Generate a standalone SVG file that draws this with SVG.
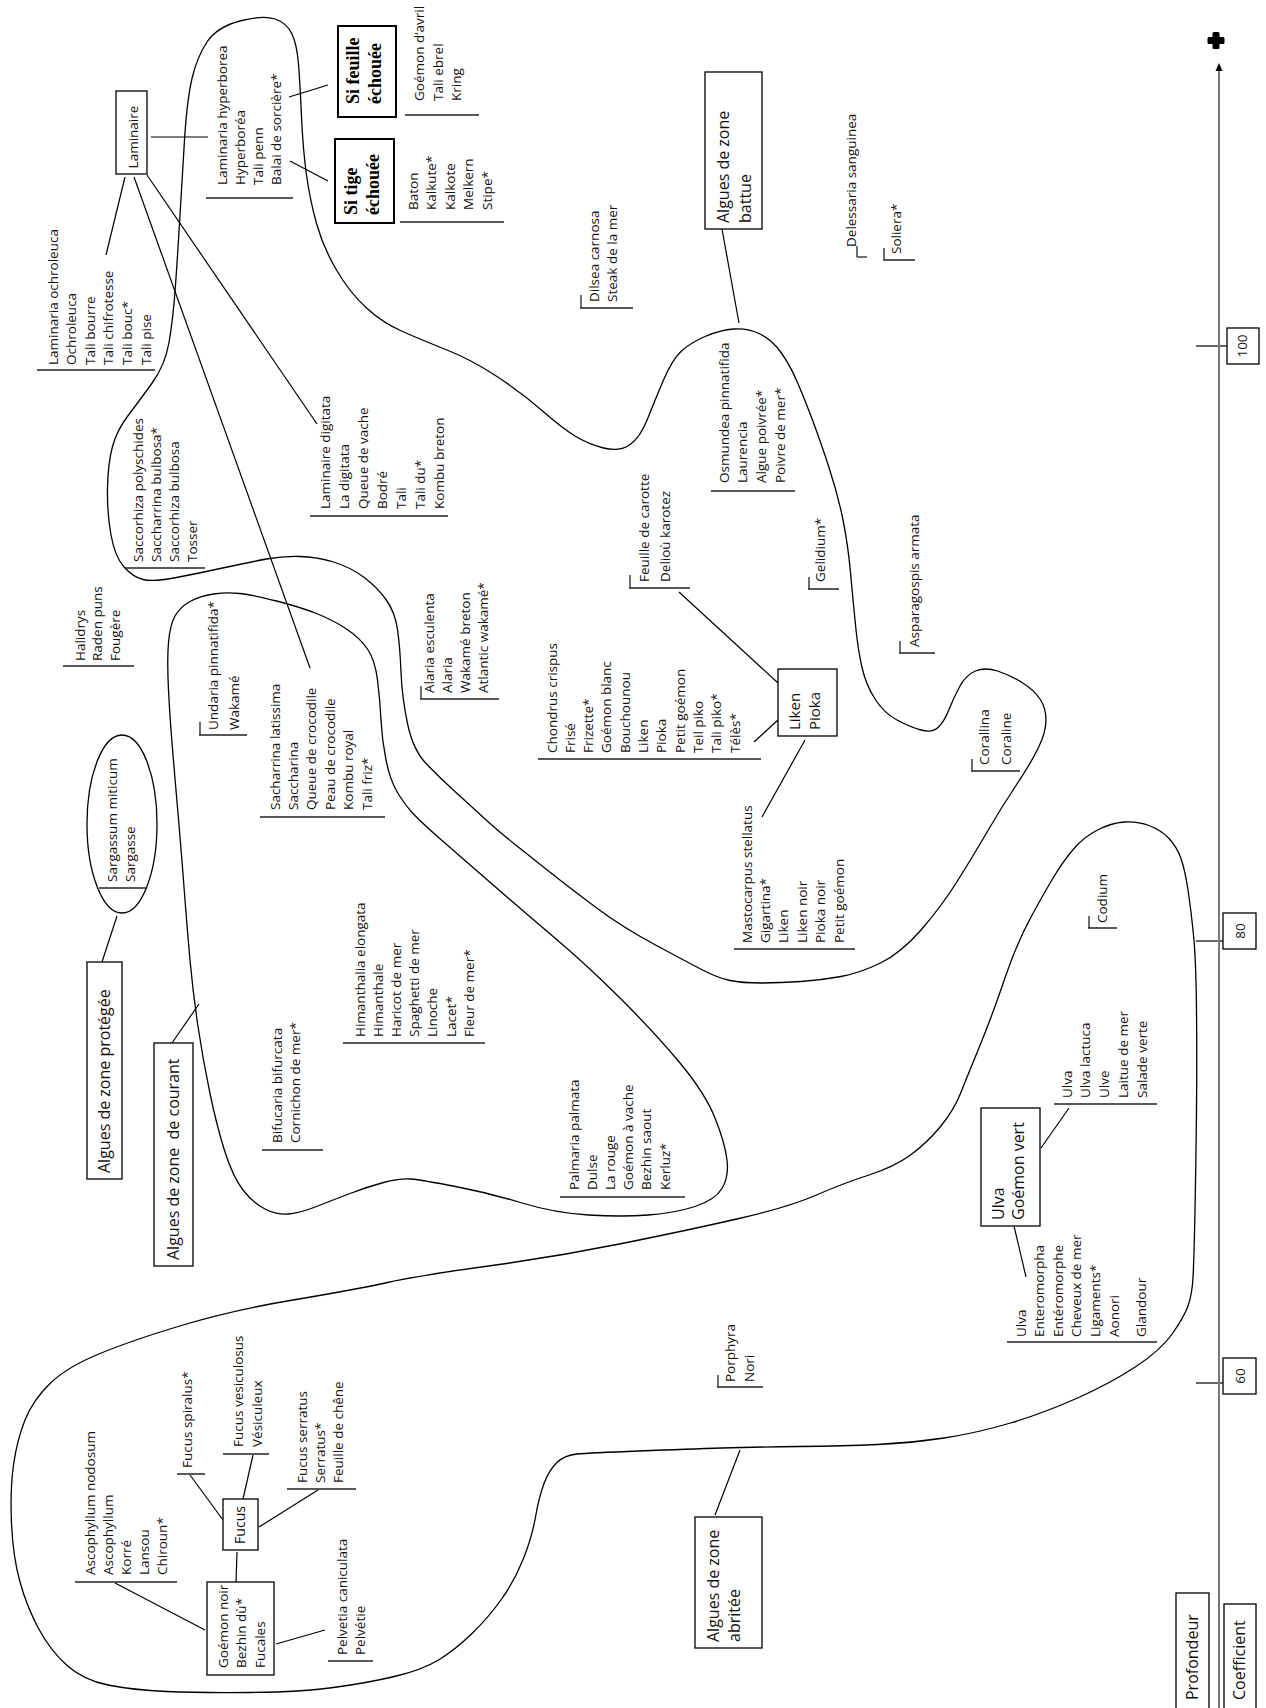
<svg xmlns="http://www.w3.org/2000/svg" width="1266" height="1708" viewBox="0 0 1266 1708">
<style>
.t{font-family:"Open Sans","Liberation Sans",sans-serif;font-size:13.5px;fill:#111}
.b{font-size:16px}
.m{font-size:15px}
.s{font-family:"Liberation Serif","DejaVu Serif",serif;font-weight:bold;font-size:18px;fill:#000}
.mid{text-anchor:middle}
.u{stroke:#222;stroke-width:1.5}
.k{stroke:#222;stroke-width:1.3}
.c{stroke:#000;stroke-width:1.2;fill:none}
.box{fill:#fff;stroke:#000;stroke-width:1.3}
.box2{fill:#fff;stroke:#000;stroke-width:2}
.zone{fill:none;stroke:#000;stroke-width:1.3}
.pre{white-space:pre}
</style>
<rect width="1266" height="1708" fill="#fff"/>
<g id="zones">
<path id="zone-battue" class="zone" d="M 176.5,577.5 Q 153,582 143,579.5 Q 133,577 124,567 Q 115,557 111,535 Q 107,513 107.5,488 Q 108,463 112.5,446.5 Q 117,430 128.5,415 Q 140,400 152.5,382.5 Q 165,365 169,342.5 Q 173,320 175.5,285 Q 178,250 180,215 Q 182,180 184.5,140 Q 187,100 192,78.5 Q 197,57 207,42 Q 217,27 240,21 Q 263,15 275,19 Q 287,23 292,34 Q 297,45 298.5,64 Q 300,83 301.5,116.5 Q 303,150 306.5,175 Q 310,200 316.5,223.5 Q 323,247 336.5,270 Q 350,293 366.5,308 Q 383,323 402.5,331.5 Q 422,340 447,350 Q 472,360 497,376.5 Q 522,393 542,410.5 Q 562,428 575,436 Q 588,444 603.5,448 Q 619,452 629.5,445 Q 640,438 647.5,419 Q 655,400 663.5,380 Q 672,360 681,351.5 Q 690,343 705,336.5 Q 720,330 734,329 Q 748,328 760,334 Q 772,340 781,352.5 Q 790,365 797.5,382.5 Q 805,400 812.5,420 Q 820,440 829,467.5 Q 838,495 843,520 Q 848,545 850.5,572.5 Q 853,600 855.5,625 Q 858,650 862,667.5 Q 866,685 875,699 Q 884,713 897,720 Q 910,727 921,730 Q 932,733 938,727.5 Q 944,722 949,709.5 Q 954,697 960,686 Q 966,675 975.5,671 Q 985,667 997.5,671 Q 1010,675 1022,682.5 Q 1034,690 1040,699 Q 1046,708 1046,720 Q 1046,732 1038.5,747.5 Q 1031,763 1016,785.5 Q 1001,808 986.5,833 Q 972,858 956.5,882.5 Q 941,907 921,930 Q 901,953 880.5,963 Q 860,973 841,976.5 Q 822,980 801,981.5 Q 780,983 761,983 Q 742,983 730,980.5 Q 718,978 703.5,970.5 Q 689,963 655.5,945 Q 622,927 596,907.5 Q 570,888 551,873 Q 532,858 514.5,844 Q 497,830 484.5,818.5 Q 472,807 456,792.5 Q 440,778 426.5,764 Q 413,750 407.5,723.5 Q 402,697 401,672 Q 400,647 397.5,629.5 Q 395,612 386,599.5 Q 377,587 363.5,577 Q 350,567 333.5,562 Q 317,557 300,556.5 Q 283,556 266.5,559 Q 250,562 225,567.5 Q 200,573 176.5,577.5 Z"/>
<path id="zone-courant" class="zone" d="M 168.5,690 Q 167,660 168.5,642.5 Q 170,625 175,616 Q 180,607 190,601.5 Q 200,596 213.5,594 Q 227,592 240,593.5 Q 253,595 276.5,601 Q 300,607 316.5,613.5 Q 333,620 346.5,629 Q 360,638 367.5,649 Q 375,660 377.5,680 Q 380,700 381,720 Q 382,740 386,760 Q 390,780 397.5,792.5 Q 405,805 413.5,814 Q 422,823 442,840.5 Q 462,858 492,884 Q 522,910 555.5,938.5 Q 589,967 622,1000 Q 655,1033 680,1063 Q 705,1093 715,1118 Q 725,1143 727,1160 Q 729,1177 722,1188.5 Q 715,1200 695,1206.5 Q 675,1213 648.5,1215 Q 622,1217 588.5,1215 Q 555,1213 522,1203 Q 489,1193 455.5,1186.5 Q 422,1180 411,1179 Q 400,1178 383.5,1182.5 Q 367,1187 350,1193.5 Q 333,1200 316.5,1206.5 Q 300,1213 288.5,1214 Q 277,1215 265,1209 Q 253,1203 243,1190 Q 233,1177 225,1152 Q 217,1127 210,1093.5 Q 203,1060 198,1026.5 Q 193,993 190,960 Q 187,927 184.5,893.5 Q 182,860 179,825 Q 176,790 173,755 Q 170,720 168.5,690 Z"/>
<path id="zone-abritee" class="zone" d="M 1054,876.5 Q 1064,860 1074,848.5 Q 1084,837 1097.5,830 Q 1111,823 1124,822 Q 1137,821 1149,825.5 Q 1161,830 1169,838.5 Q 1177,847 1181,858.5 Q 1185,870 1188,890 Q 1191,910 1193.5,935 Q 1196,960 1196.5,1010 Q 1197,1060 1196.5,1110 Q 1196,1160 1195,1210 Q 1194,1260 1193,1277.5 Q 1192,1295 1188,1306 Q 1184,1317 1172.5,1333.5 Q 1161,1350 1136,1366.5 Q 1111,1383 1077.5,1398 Q 1044,1413 1010.5,1423 Q 977,1433 944,1438 Q 911,1443 877.5,1444.5 Q 844,1446 799.5,1446.5 Q 755,1447 722,1448 Q 689,1449 639,1451 Q 589,1453 577,1454 Q 565,1455 557,1462.5 Q 549,1470 544,1483.5 Q 539,1497 535.5,1517 Q 532,1537 523.5,1558.5 Q 515,1580 502,1598.5 Q 489,1617 472,1633.5 Q 455,1650 438.5,1660 Q 422,1670 394.5,1676.5 Q 367,1683 333.5,1687.5 Q 300,1692 250,1692.5 Q 200,1693 166.5,1691.5 Q 133,1690 108,1685 Q 83,1680 66.5,1665 Q 50,1650 38.5,1628.5 Q 27,1607 20,1582 Q 13,1557 11.5,1523.5 Q 10,1490 13.5,1465 Q 17,1440 25,1420 Q 33,1400 50,1383.5 Q 67,1367 100,1353.5 Q 133,1340 183,1325 Q 233,1310 293,1300 Q 353,1290 387.5,1282.5 Q 422,1275 488.5,1266 Q 555,1257 622,1243.5 Q 689,1230 739,1218.5 Q 789,1207 816.5,1195 Q 844,1183 869,1175 Q 894,1167 910.5,1155 Q 927,1143 940.5,1126.5 Q 954,1110 960.5,1093.5 Q 967,1077 972,1065 Q 977,1053 985.5,1031.5 Q 994,1010 1005.5,976.5 Q 1017,943 1030.5,918 Q 1044,893 1054,876.5 Z"/>
</g>
<g id="connectors">
<line class="c" x1="151" y1="137" x2="208" y2="137"/>
<line class="c" x1="147" y1="175" x2="317" y2="424"/>
<line class="c" x1="134" y1="177" x2="310" y2="668"/>
<line class="c" x1="125" y1="177" x2="106" y2="255"/>
<line class="c" x1="289" y1="97" x2="328" y2="85"/>
<line class="c" x1="290" y1="161" x2="328" y2="181"/>
<line class="c" x1="722" y1="229" x2="739" y2="323"/>
<line class="c" x1="117" y1="916" x2="101" y2="965"/>
<line class="c" x1="172" y1="1043" x2="199" y2="1004"/>
<line class="c" x1="715" y1="1515" x2="740" y2="1450"/>
<line class="c" x1="679" y1="592" x2="778" y2="683"/>
<line class="c" x1="754" y1="742" x2="778" y2="720"/>
<line class="c" x1="805" y1="740" x2="762" y2="817"/>
<line class="c" x1="1041" y1="1148" x2="1069" y2="1108"/>
<line class="c" x1="1014" y1="1226" x2="1026" y2="1277"/>
<line class="c" x1="115" y1="1583" x2="205" y2="1630"/>
<line class="c" x1="190" y1="1475" x2="223" y2="1520"/>
<line class="c" x1="253" y1="1455" x2="243" y2="1499"/>
<line class="c" x1="318" y1="1490" x2="259" y2="1527"/>
<line class="c" x1="237" y1="1552" x2="236" y2="1582"/>
<line class="c" x1="325" y1="1630" x2="276" y2="1644"/>
<line class="c" x1="1196" y1="346" x2="1227" y2="346"/>
<line class="c" x1="1196" y1="941" x2="1223" y2="941"/>
<line class="c" x1="1196" y1="1383" x2="1223" y2="1383"/>
</g>
<g id="axis">
<line x1="1219" y1="1708" x2="1219" y2="70" stroke="#777" stroke-width="2"/>
<polygon points="1219,63 1215.5,71 1222.5,71" fill="#000"/>
<rect x="1212.5" y="32" width="7" height="17" rx="1.5" fill="#000"/>
<rect x="1207.5" y="37" width="17" height="7" rx="1.5" fill="#000"/>
</g>
<g id="n-100"><rect class="box" x="1227" y="328" width="32" height="36"/><g transform="translate(1247,346) rotate(-90)"><text class="t mid">100</text></g></g>
<g id="n-80"><rect class="box" x="1223" y="913" width="33" height="36"/><g transform="translate(1244.5,931) rotate(-90)"><text class="t mid">80</text></g></g>
<g id="n-60"><rect class="box" x="1223" y="1358" width="33" height="36"/><g transform="translate(1244.5,1376) rotate(-90)"><text class="t mid">60</text></g></g>
<g id="n-profondeur"><rect class="box" x="1176" y="1593" width="33" height="130"/><g transform="translate(1198,1700) rotate(-90)"><text class="t b">Profondeur</text></g></g>
<g id="n-coefficient"><rect class="box" x="1224" y="1604" width="32" height="120"/><g transform="translate(1245,1700) rotate(-90)"><text class="t b">Coefficient</text></g></g>

<g id="n-laminaire"><rect class="box" x="116" y="91" width="31" height="83"/><g transform="translate(137.5,137) rotate(-90)"><text class="t mid">Laminaire</text></g></g>
<g id="n-si-feuille"><rect class="box2" x="338" y="26" width="58" height="91"/><g transform="translate(359,104) rotate(-90)"><text class="s"><tspan x="0" y="0">Si feuille</tspan><tspan x="0" y="21.5">échouée</tspan></text></g></g>
<g id="n-si-tige"><rect class="box2" x="335" y="139" width="59" height="84"/><g transform="translate(357,215) rotate(-90)"><text class="s"><tspan x="0" y="0">Si tige</tspan><tspan x="0" y="22">échouée</tspan></text></g></g>
<g id="n-battue"><rect class="box" x="705" y="72" width="57" height="157"/><g transform="translate(728.5,223) rotate(-90)"><text class="t b"><tspan x="0" y="0">Algues de zone</tspan><tspan x="0" y="22">battue</tspan></text></g></g>
<g id="n-protegee"><rect class="box" x="87" y="962" width="35" height="217"/><g transform="translate(110,1173) rotate(-90)"><text class="t b">Algues de zone protégée</text></g></g>
<g id="n-courant"><rect class="box" x="154" y="1043" width="39" height="223"/><g transform="translate(178.5,1260) rotate(-90)"><text class="t b pre">Algues de zone  de courant</text></g></g>
<g id="n-abritee"><rect class="box" x="695" y="1517" width="67" height="131"/><g transform="translate(718.5,1642) rotate(-90)"><text class="t b"><tspan x="0" y="0">Algues de zone</tspan><tspan x="0" y="21">abritée</tspan></text></g></g>
<g id="n-liken"><rect class="box" x="778" y="669" width="59" height="67"/><g transform="translate(800,730) rotate(-90)"><text class="t m"><tspan x="0" y="0">Liken</tspan><tspan x="0" y="20">Pioka</tspan></text></g></g>
<g id="n-ulva"><rect class="box" x="981" y="1108" width="59" height="118"/><g transform="translate(1003.5,1220) rotate(-90)"><text class="t b"><tspan x="0" y="0">Ulva</tspan><tspan x="0" y="20">Goémon vert</tspan></text></g></g>
<g id="n-fucus"><rect class="box" x="223" y="1499" width="35" height="51"/><g transform="translate(245,1525) rotate(-90)"><text class="t mid" style="font-size:14px">Fucus</text></g></g>
<g id="n-goemon-noir"><rect class="box" x="207" y="1582" width="67" height="93"/><g transform="translate(227.5,1668) rotate(-90)"><text class="t"><tspan x="0" y="0">Goémon noir</tspan><tspan x="0" y="18.5">Bezhin dù*</tspan><tspan x="0" y="37">Fucales</tspan></text></g></g>
<g id="n-sargassum"><ellipse cx="122" cy="824" rx="35" ry="89" fill="none" stroke="#000" stroke-width="1.3"/><line class="u" x1="99" y1="888" x2="147" y2="888"/><g transform="translate(116.5,882) rotate(-90)"><text class="t"><tspan x="0" y="0">Sargassum miticum</tspan><tspan x="0" y="18">Sargasse</tspan></text></g></g>

<g id="n-ochroleuca"><line class="u" x1="37" y1="370" x2="155" y2="370"/><g transform="translate(57.5,365) rotate(-90)"><text class="t"><tspan x="0" y="0">Laminaria ochroleuca</tspan><tspan x="0" y="18.6">Ochroleuca</tspan><tspan x="0" y="37.2">Tali bourre</tspan><tspan x="0" y="55.8">Tali chifrotesse</tspan><tspan x="0" y="74.4">Tali bouc*</tspan><tspan x="0" y="93">Tali pise</tspan></text></g></g>
<g id="n-hyperborea"><line class="u" x1="206" y1="198" x2="293" y2="198"/><g transform="translate(226.5,185) rotate(-90)"><text class="t"><tspan x="0" y="0">Laminaria hyperborea</tspan><tspan x="0" y="18">Hyperboréa</tspan><tspan x="0" y="36">Tali penn</tspan><tspan x="0" y="54">Balai de sorcière*</tspan></text></g></g>
<g id="n-goemon-avril"><line class="u" x1="405" y1="115" x2="479" y2="115"/><g transform="translate(424,101) rotate(-90)"><text class="t"><tspan x="0" y="0">Goémon d’avril</tspan><tspan x="0" y="18.5">Tali ebrel</tspan><tspan x="0" y="37">Kring</tspan></text></g></g>
<g id="n-baton"><line class="u" x1="400" y1="222" x2="504" y2="222"/><g transform="translate(418,210) rotate(-90)"><text class="t"><tspan x="0" y="0">Baton</tspan><tspan x="0" y="18.4">Kalkute*</tspan><tspan x="0" y="36.8">Kalkote</tspan><tspan x="0" y="55.2">Melkern</tspan><tspan x="0" y="73.6">Stipe*</tspan></text></g></g>
<g id="n-dilsea"><line class="u" x1="580" y1="308" x2="633" y2="308"/><line class="k" x1="581" y1="295" x2="581" y2="308"/><g transform="translate(599,302) rotate(-90)"><text class="t"><tspan x="0" y="0">Dilsea carnosa</tspan><tspan x="0" y="18">Steak de la mer</tspan></text></g></g>
<g id="n-osmundea"><line class="u" x1="711" y1="491" x2="795" y2="491"/><g transform="translate(728.5,483) rotate(-90)"><text class="t"><tspan x="0" y="0">Osmundea pinnatifida</tspan><tspan x="0" y="18.7">Laurencia</tspan><tspan x="0" y="37.4">Algue poivrée*</tspan><tspan x="0" y="56.1">Poivre de mer*</tspan></text></g></g>
<g id="n-delessaria"><line class="k" x1="857" y1="257" x2="867" y2="257"/><line class="k" x1="857" y1="246" x2="857" y2="257"/><g transform="translate(855.5,247) rotate(-90)"><text class="t">Delessaria sanguinea</text></g></g>
<g id="n-soliera"><line class="u" x1="884" y1="260" x2="915" y2="260"/><line class="k" x1="884" y1="248" x2="884" y2="261"/><g transform="translate(900.5,254) rotate(-90)"><text class="t">Soliera*</text></g></g>
<g id="n-saccorhiza"><line class="u" x1="125" y1="568" x2="205" y2="568"/><g transform="translate(142.5,562) rotate(-90)"><text class="t"><tspan x="0" y="0">Saccorhiza polyschides</tspan><tspan x="0" y="18.3">Saccharrina bulbosa*</tspan><tspan x="0" y="36.6">Saccorhiza bulbosa</tspan><tspan x="0" y="54.9">Tosser</tspan></text></g></g>
<g id="n-digitata"><line class="u" x1="310" y1="516" x2="448" y2="516"/><g transform="translate(329.5,509) rotate(-90)"><text class="t"><tspan x="0" y="0">Laminaire digitata</tspan><tspan x="0" y="19">La digitata</tspan><tspan x="0" y="38">Queue de vache</tspan><tspan x="0" y="57">Bodré</tspan><tspan x="0" y="76">Tali</tspan><tspan x="0" y="95">Tali du*</tspan><tspan x="0" y="114">Kombu breton</tspan></text></g></g>
<g id="n-saccharina"><line class="u" x1="260" y1="817" x2="385" y2="817"/><g transform="translate(279.5,810) rotate(-90)"><text class="t"><tspan x="0" y="0">Sacharrina latissima</tspan><tspan x="0" y="18.4">Saccharina</tspan><tspan x="0" y="36.8">Queue de crocodile</tspan><tspan x="0" y="55.2">Peau de crocodile</tspan><tspan x="0" y="73.6">Kombu royal</tspan><tspan x="0" y="92">Tali friz*</tspan></text></g></g>
<g id="n-undaria"><line class="u" x1="199" y1="735" x2="247" y2="735"/><line class="k" x1="200" y1="722" x2="200" y2="735"/><g transform="translate(217.5,730) rotate(-90)"><text class="t"><tspan x="0" y="0">Undaria pinnatifida*</tspan><tspan x="0" y="21.5">Wakamé</tspan></text></g></g>
<g id="n-halidrys"><line class="u" x1="63" y1="666" x2="134" y2="666"/><g transform="translate(84.5,661) rotate(-90)"><text class="t"><tspan x="0" y="0">Halidrys</tspan><tspan x="0" y="17.5">Raden puns</tspan><tspan x="0" y="35">Fougère</tspan></text></g></g>
<g id="n-bifucaria"><line class="u" x1="262" y1="1150" x2="323" y2="1150"/><g transform="translate(281.5,1143) rotate(-90)"><text class="t"><tspan x="0" y="0">Bifucaria bifurcata</tspan><tspan x="0" y="18">Cornichon de mer*</tspan></text></g></g>
<g id="n-himanthalia"><line class="u" x1="343" y1="1043" x2="485" y2="1043"/><g transform="translate(364.5,1037) rotate(-90)"><text class="t"><tspan x="0" y="0">Himanthalia elongata</tspan><tspan x="0" y="18.2">Himanthale</tspan><tspan x="0" y="36.4">Haricot de mer</tspan><tspan x="0" y="54.6">Spaghetti de mer</tspan><tspan x="0" y="72.8">Linoche</tspan><tspan x="0" y="91">Lacet*</tspan><tspan x="0" y="109.2">Fleur de mer*</tspan></text></g></g>
<g id="n-palmaria"><line class="u" x1="560" y1="1197" x2="685" y2="1197"/><g transform="translate(578.5,1190) rotate(-90)"><text class="t"><tspan x="0" y="0">Palmaria palmata</tspan><tspan x="0" y="18.2">Dulse</tspan><tspan x="0" y="36.4">La rouge</tspan><tspan x="0" y="54.6">Goémon à vache</tspan><tspan x="0" y="72.8">Bezhin saout</tspan><tspan x="0" y="91">Kerluz*</tspan></text></g></g>
<g id="n-mastocarpus"><line class="u" x1="734" y1="949" x2="855" y2="949"/><g transform="translate(751.5,943) rotate(-90)"><text class="t"><tspan x="0" y="0">Mastocarpus stellatus</tspan><tspan x="0" y="18.4">Gigartina*</tspan><tspan x="0" y="36.8">Liken</tspan><tspan x="0" y="55.2">Liken noir</tspan><tspan x="0" y="73.6">Pioka noir</tspan><tspan x="0" y="92">Petit goémon</tspan></text></g></g>
<g id="n-chondrus"><line class="u" x1="538" y1="759" x2="761" y2="759"/><g transform="translate(556.5,753) rotate(-90)"><text class="t"><tspan x="0" y="0">Chondrus crispus</tspan><tspan x="0" y="18.3">Frisé</tspan><tspan x="0" y="36.6">Frizette*</tspan><tspan x="0" y="54.9">Goémon blanc</tspan><tspan x="0" y="73.2">Bouchounou</tspan><tspan x="0" y="91.5">Liken</tspan><tspan x="0" y="109.8">Pioka</tspan><tspan x="0" y="128.1">Petit goémon</tspan><tspan x="0" y="146.4">Teil piko</tspan><tspan x="0" y="164.7">Tali piko*</tspan><tspan x="0" y="183">Télès*</tspan></text></g></g>
<g id="n-carotte"><line class="u" x1="629" y1="588" x2="690" y2="588"/><line class="k" x1="630" y1="575" x2="630" y2="588"/><g transform="translate(648.5,582) rotate(-90)"><text class="t"><tspan x="0" y="0">Feuille de carotte</tspan><tspan x="0" y="21">Delioù karotez</tspan></text></g></g>
<g id="n-alaria"><line class="u" x1="420" y1="699" x2="499" y2="699"/><line class="k" x1="421" y1="686" x2="421" y2="699"/><g transform="translate(433.5,693) rotate(-90)"><text class="t"><tspan x="0" y="0">Alaria esculenta</tspan><tspan x="0" y="18.3">Alaria</tspan><tspan x="0" y="36.6">Wakamé breton</tspan><tspan x="0" y="54.9">Atlantic wakamé*</tspan></text></g></g>
<g id="n-gelidium"><line class="u" x1="808" y1="589" x2="839" y2="589"/><line class="k" x1="809" y1="577" x2="809" y2="589"/><g transform="translate(824.5,582) rotate(-90)"><text class="t">Gelidium*</text></g></g>
<g id="n-asparagospis"><line class="u" x1="899" y1="653" x2="935" y2="653"/><line class="k" x1="900" y1="641" x2="900" y2="653"/><g transform="translate(918.5,647) rotate(-90)"><text class="t">Asparagospis armata</text></g></g>
<g id="n-corallina"><line class="k" x1="971" y1="771" x2="1020" y2="771" stroke="#777"/><line class="k" x1="972" y1="759" x2="972" y2="771" stroke="#777"/><g transform="translate(988.5,765) rotate(-90)"><text class="t"><tspan x="0" y="0">Corallina</tspan><tspan x="0" y="22">Coraline</tspan></text></g></g>
<g id="n-codium"><line class="u" x1="1088" y1="928" x2="1117" y2="928"/><line class="k" x1="1089" y1="916" x2="1089" y2="928"/><g transform="translate(1106.5,923) rotate(-90)"><text class="t">Codium</text></g></g>
<g id="n-ulva-right"><line class="u" x1="1054" y1="1104" x2="1157" y2="1104"/><g transform="translate(1071.5,1098) rotate(-90)"><text class="t"><tspan x="0" y="0">Ulva</tspan><tspan x="0" y="18.75">Ulva lactuca</tspan><tspan x="0" y="37.5">Ulve</tspan><tspan x="0" y="56.25">Laitue de mer</tspan><tspan x="0" y="75">Salade verte</tspan></text></g></g>
<g id="n-ulva-left"><line class="u" x1="1007" y1="1342" x2="1157" y2="1342"/><g transform="translate(1025.5,1337) rotate(-90)"><text class="t"><tspan x="0" y="0">Ulva</tspan><tspan x="0" y="18.6">Enteromorpha</tspan><tspan x="0" y="37.2">Entéromorphe</tspan><tspan x="0" y="55.8">Cheveux de mer</tspan><tspan x="0" y="74.4">Ligaments*</tspan><tspan x="0" y="93">Aonori</tspan><tspan x="0" y="120">Glandour</tspan></text></g></g>
<g id="n-porphyra"><line class="u" x1="717" y1="1387" x2="763" y2="1387"/><line class="k" x1="718" y1="1375" x2="718" y2="1387"/><g transform="translate(734.5,1382) rotate(-90)"><text class="t"><tspan x="0" y="0">Porphyra</tspan><tspan x="0" y="19">Nori</tspan></text></g></g>
<g id="n-ascophyllum"><line class="u" x1="75" y1="1582" x2="177" y2="1582"/><g transform="translate(94.5,1575) rotate(-90)"><text class="t"><tspan x="0" y="0">Ascophyllum nodosum</tspan><tspan x="0" y="18">Ascophyllum</tspan><tspan x="0" y="36">Korré</tspan><tspan x="0" y="54">Lansou</tspan><tspan x="0" y="72">Chiroun*</tspan></text></g></g>
<g id="n-spiralus"><line class="u" x1="177" y1="1474" x2="205" y2="1474"/><g transform="translate(191.5,1468) rotate(-90)"><text class="t">Fucus spiralus*</text></g></g>
<g id="n-vesiculosus"><line class="u" x1="223" y1="1454" x2="269" y2="1454"/><g transform="translate(242.5,1447) rotate(-90)"><text class="t"><tspan x="0" y="0">Fucus vesiculosus</tspan><tspan x="0" y="19">Vésiculeux</tspan></text></g></g>
<g id="n-serratus"><line class="u" x1="287" y1="1489" x2="356" y2="1489"/><g transform="translate(306.5,1483) rotate(-90)"><text class="t"><tspan x="0" y="0">Fucus serratus</tspan><tspan x="0" y="18">Serratus*</tspan><tspan x="0" y="36">Feuille de chêne</tspan></text></g></g>
<g id="n-pelvetia"><line class="u" x1="328" y1="1661" x2="373" y2="1661"/><g transform="translate(346.5,1655) rotate(-90)"><text class="t"><tspan x="0" y="0">Pelvetia caniculata</tspan><tspan x="0" y="18">Pelvétie</tspan></text></g></g>
</svg>
